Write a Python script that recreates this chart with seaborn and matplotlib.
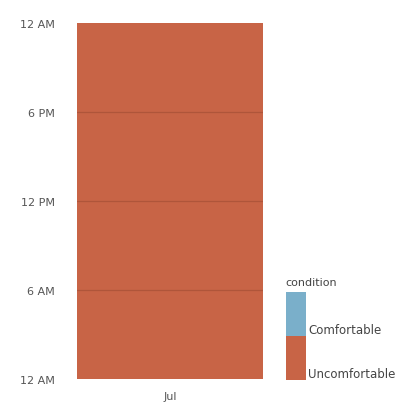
import matplotlib
matplotlib.use("Agg")
import matplotlib.pyplot as plt
import matplotlib.patches as mpatches
import seaborn as sns
import pandas as pd

months = ["Jul"]
conditions = ["Comfortable", "Uncomfortable"]
comfortable_hours = [0]
uncomfortable_hours = [24]
hour_ticks = [0, 6, 12, 18, 24]
hour_labels = ["12 AM", "6 AM", "12 PM", "6 PM", "12 AM"]
palette = {"Comfortable": "#7aafca", "Uncomfortable": "#c86446"}

df = pd.DataFrame({
    "month": months,
    "Uncomfortable": uncomfortable_hours,
    "Comfortable": comfortable_hours,
})
# stack: uncomfortable at the bottom, comfortable on top
df["top"] = df["Uncomfortable"] + df["Comfortable"]

sns.set_style("white")
fig = plt.figure(figsize=(4.14, 4.14), dpi=100)
ax = fig.add_axes([77 / 414, 34 / 414, 186 / 414, 356 / 414])

sns.barplot(data=df, x="month", y="top", color=palette["Comfortable"],
            width=1.0, ax=ax, saturation=1, linewidth=0)
sns.barplot(data=df, x="month", y="Uncomfortable", color=palette["Uncomfortable"],
            width=1.0, ax=ax, saturation=1, linewidth=0)

ax.set_xlim(-0.5, 0.5)
ax.set_ylim(0, 24)
ax.set_yticks(hour_ticks)
ax.set_yticklabels(hour_labels)
ax.set_xlabel("")
ax.set_ylabel("")
ax.xaxis.grid(False)
ax.yaxis.grid(False)
# inner hour lines drawn over the bar
for h in hour_ticks[1:-1]:
    ax.axhline(h, color="#8a3f2a", alpha=0.4, linewidth=0.9, zorder=5)
for s in ax.spines.values():
    s.set_visible(False)
ax.tick_params(axis="both", length=0, labelsize=8, colors="#555555")
ax.tick_params(axis="y", pad=16)
ax.tick_params(axis="x", pad=9)

# legend drawn as a stacked swatch column
fig.text(285 / 414, 1 - 283 / 414, "condition", fontsize=8, color="#444444",
         ha="left", va="center")
sw_x, sw_w = 286 / 414, 20 / 414
for cond, y0, y1 in [("Comfortable", 293, 337), ("Uncomfortable", 337, 381)]:
    fig.patches.append(mpatches.Rectangle((sw_x, 1 - y1 / 414), sw_w, (y1 - y0) / 414,
                                          transform=fig.transFigure,
                                          facecolor=palette[cond], edgecolor="none"))
    fig.text(sw_x + sw_w + 2 / 414, 1 - (y1 - 6) / 414, cond, fontsize=8.5,
             color="#444444", ha="left", va="center")

fig.savefig("out.png", dpi=100, facecolor="white")
